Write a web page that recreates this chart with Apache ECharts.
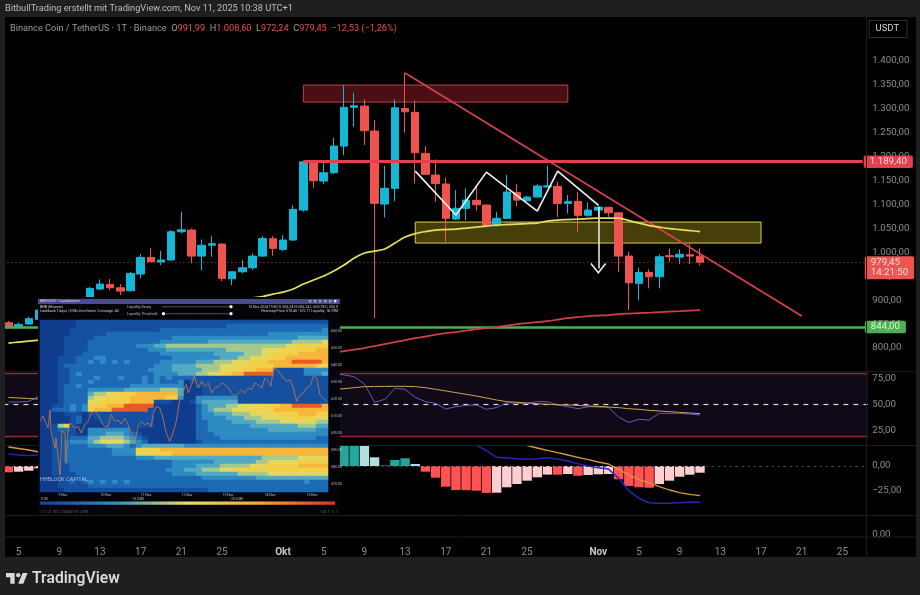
<!DOCTYPE html>
<html><head><meta charset="utf-8">
<style>html,body{margin:0;padding:0;background:#1e1e1e}#c{width:920px;height:595px}</style>
<script src="https://cdn.jsdelivr.net/npm/echarts@6/dist/echarts.min.js"></script>
</head><body><div id="c"></div>
<script>
// ---------- time axis ----------
const days=['Sep 4','Sep 5','Sep 6','Sep 7','Sep 8','Sep 9','Sep 10','Sep 11','Sep 12','Sep 13','Sep 14','Sep 15','Sep 16','Sep 17','Sep 18','Sep 19','Sep 20','Sep 21','Sep 22','Sep 23','Sep 24','Sep 25','Sep 26','Sep 27','Sep 28','Sep 29','Sep 30',
'Okt 1','Okt 2','Okt 3','Okt 4','Okt 5','Okt 6','Okt 7','Okt 8','Okt 9','Okt 10','Okt 11','Okt 12','Okt 13','Okt 14','Okt 15','Okt 16','Okt 17','Okt 18','Okt 19','Okt 20','Okt 21','Okt 22','Okt 23','Okt 24','Okt 25','Okt 26','Okt 27','Okt 28','Okt 29','Okt 30','Okt 31',
'Nov 1','Nov 2','Nov 3','Nov 4','Nov 5','Nov 6','Nov 7','Nov 8','Nov 9','Nov 10','Nov 11','Nov 12','Nov 13','Nov 14','Nov 15','Nov 16','Nov 17','Nov 18','Nov 19','Nov 20','Nov 21','Nov 22','Nov 23','Nov 24','Nov 25','Nov 26','Nov 27'];
const tickDays=['Sep 5','Sep 9','Sep 13','Sep 17','Sep 21','Sep 25','Okt 1','Okt 5','Okt 9','Okt 13','Okt 17','Okt 21','Okt 25','Nov 1','Nov 5','Nov 9','Nov 13','Nov 17','Nov 21','Nov 25'];
// ---------- candles ----------
const opens=[852.9,842.4,850.1,860,879,885,892,897,902.4,923.3,933,926,919.7,954.6,989.5,979.7,983.9,1043,1046.6,992.2,1015,1017.3,944.8,959.4,967.8,992.2,1028.4,1006.2,1025.7,1088.3,1188,1149,1166.3,1222,1303,1305.6,1253.4,1100.9,1133.7,1300.7,1292.5,1206.8,1161.5,1142.7,1069.5,1091.9,1108.6,1098.8,1056.4,1071,1125.3,1107.8,1115.5,1136.4,1137.9,1102.3,1106.5,1077.3,1088.3,1094,1082.7,992.2,935.2,958.2,949,992.9,990.1,995,991.99];
const closes=[842.4,849.5,861.2,879.4,885,892,897,902,924.7,933.7,926,919,956,989.5,980.3,983.9,1043,1047,992.2,1014.6,1018,945.6,959.4,967.8,992.2,1029,1008.3,1025.7,1089.8,1189.3,1149.6,1166.3,1222,1303,1306.3,1254,1102.3,1133.7,1302,1293.7,1208,1163,1144,1071,1091.9,1109.2,1099.4,1056.4,1071,1126,1109.2,1115.5,1138.5,1139,1102.3,1106.5,1077.3,1088.3,1094.6,1082.7,992.2,936.4,958.2,949,990.8,990.8,995.8,992.2,979.45];
const lows=[841.8,841.8,850,858,875,881,888,893,900,922,921,910.7,919,945.6,980,973.4,983,1039.7,977,963,990.8,940,931.6,956,963,991,992.9,1003,1024.5,1084.8,1135,1142.7,1163.6,1203,1262.4,1224.2,862.7,1073,1107,1249.9,1144,1162,1105.7,1022,1068,1067.4,1086.9,1055,1053.4,1070,1096.7,1107,1115,1135.8,1073,1081.5,1043,1074.3,1074.3,1074.3,959.4,879.4,900.3,924.7,924.7,980.3,975.5,975.5,972.24];
const highs=[856.4,853.7,865.4,884,890,897,906.6,905,928,943.5,944,933.7,959.4,996.4,1008.3,1003.3,1046.6,1084.8,1050,1027,1034,1018.7,960.5,983.9,997.9,1034,1034,1036,1098.8,1191,1191,1188,1239.4,1349.5,1333.4,1319.6,1276.4,1180.9,1319.6,1375,1316.7,1222,1194,1155.8,1130,1133.7,1140.6,1100,1084.8,1161.5,1142.7,1117.6,1142,1180.9,1147.5,1119.7,1126.6,1104.4,1098.8,1095,1083.5,1001.2,968.6,964.4,995.8,1008.3,1006.2,1018.8,1008.6];
// ---------- moving averages ----------
const ema50=[810.4,812.5,814.6,816.7,818.8,823,827.2,831.3,835.5,839.7,843.9,848.1,854.3,858.5,862.7,866.9,871,877.3,881.5,885.7,889.8,894,898.2,900.3,904.5,907.6,912.8,917,923.3,933.7,942.1,950.4,960.9,973.4,988,998.5,1002.7,1006.9,1019.4,1031.9,1039.2,1043.4,1046.6,1047.6,1048.6,1050.7,1052.8,1054.9,1057,1058,1059.1,1060.1,1061.2,1065.4,1067.4,1068.5,1069.5,1070.6,1071.6,1071.6,1071.6,1066.4,1061.2,1056,1052.8,1049.7,1047.6,1045.5,1043.4];
const ema200Days=days.slice(30,69);
const ema200=[783.3,787.5,790.6,793.7,796.9,800,804.2,808.4,812.5,816.7,820.9,824,828.2,831.3,833.4,836.6,839.7,841.8,843.9,847,850.1,852.2,854.3,856.4,859.5,862.7,864.8,866.9,867.9,869,871,872.1,873.1,873.8,875.2,876.3,877.3,878.4,879.4];
// ---------- drawings ----------
const zigDays=['Okt 14','Okt 18','Okt 21','Okt 26','Okt 28','Nov 1'];
const zigPrices=[1169.8,1077.9,1167.7,1086.3,1169.8,1098.8];
const trendDays=['Okt 13','Nov 21'];
const trendPrices=[1374.6,866.9];
const resistance=1189.4, support=844, lastPrice=979.45;
const redZone={from:'Okt 3',to:'Okt 29',top:1349.5,bottom:1314};
const yellowZone={from:'Okt 14',to:'Nov 17',top:1063.3,bottom:1019.4};
// ---------- RSI ----------
const rsi=[52.4,52.4,53,58,60,62,64,66,68,67,66,65,64,63,62,64,68,70,60,55,53,45,44,46,48,52,56,60,66,74,72,72,79.7,78.1,76.5,69.5,52.1,54.9,65.4,64.5,56.8,52.7,51.1,45.7,47.9,49.2,49.5,45.4,47,51.7,51.1,51.1,52.7,52.7,49.5,47.9,46,47.9,47.6,47.3,37.8,33,35.9,35.2,41.6,41.6,41.6,41,40];
const rsiMa=[56.7,56.2,55.7,55.2,56,56,57,57,58,59,60,60,61,61,62,62,63,63,64,63,62,61,60,59,58,57,57,57,58,59,60,62,64.4,65,66,67,67.1,67.3,67.3,67.3,67,66,64.5,62.9,61.3,59.7,58.1,56.2,54.3,52.7,52.1,51.4,50.8,50.2,49.8,49.5,49.2,48.6,48.3,47.6,47,46,45.4,44.4,43.8,43.2,42.5,41.9,41.3];
// ---------- MACD ----------
const macdHist=[-6.3,-5.7,-4.7,-2.3,-1,0.5,1.5,3,5,6,6.5,6,7,9,10,9,10,11,10,8,7,4,2,1,1.5,3,4,7,10,15,17,18,20,22,26,24,8.7,0.3,6,7.7,2,-5.7,-11.7,-20.7,-24,-24.2,-24.7,-26.9,-26.7,-21.3,-18,-14.7,-11.3,-8.6,-8.7,-8,-9.7,-9,-8.3,-8,-13.3,-20,-21.3,-21.7,-18,-14.7,-10.7,-8.7,-6.7];
const macdLeftDays=['Sep 4','Sep 5','Sep 6','Sep 7'];
const macdLeft=[12,11,10.5,11];
const signalLeft=[19,17.5,16,14];
const macdDays=days.slice(46,69);
const macdLine=[21,15.3,8.7,8,7.3,6.7,7.3,8.3,7,5,2.3,0,-1.7,-3,-12.3,-24.7,-32.3,-36.7,-37.3,-37.3,-36.7,-36.3,-36.3];
const signalDays=days.slice(51,69);
const signalLine=[20.3,18,15.7,13.3,11,8.7,6.3,4,2,-3.3,-9,-13.3,-17,-20.7,-24,-26.7,-28.3,-29.7];
// ---------- inset liquidity heatmap (estimated intensity 0-9) ----------
const heatRows=[
'00000011 11111111 11111111 11111111 11111111 11111111',
'00000011 11111111 11111111 11111112 22222222 22222222',
'00000111 11111111 11112222 22222222 22222222 22222223',
'00000111 11122222 22222222 22222222 22222233 33333333',
'00001111 12222222 22222233 33333333 33333333 33344444',
'00001111 22222222 22223333 33334444 44444444 44555556',
'00001111 22222222 33344555 55555555 55555555 56677777',
'00001111 22222222 22333444 44444445 55555666 77777788',
'00001112 22222222 22223333 33333444 44555667 77788888',
'00011122 23322222 22222233 33333344 45566677 78888888',
'00011122 32323232 22223333 33444555 66677788 88999998',
'00012222 22222222 22233344 44555566 66777778 88888877',
'00011222 22222222 22333344 44455566 67778881 11113333',
'00011232 22222222 22233334 44556677 88999991 11113334',
'00011222 23222322 23232322 22111111 11111111 11111111',
'00011222 32222222 23232223 01111111 11111111 11111111',
'00012232 22222223 33333333 00111111 11111111 11111111',
'00012222 33333344 44445554 00011111 11111111 11111111',
'00012222 45566777 88888884 00011111 11111111 11111111',
'00012222 56677778 88888773 00333333 31111111 11111111',
'00012222 66777778 88811100 01344444 41111111 11111111',
'00112323 77788899 99900000 00234445 56666777 88999998',
'00222323 78889999 99100000 00234555 66677778 88888888',
'00001110 11111111 11100000 00233444 55566667 77788877',
'00000120 01111111 11100000 00233334 44555666 66777766',
'00000120 00111111 11100000 00223333 44445555 66666655',
'00156100 00011111 11100000 00223333 33344444 44455544',
'00122100 33333331 00000000 00223333 33333344 44444433',
'00111100 33344432 10000000 00222333 33333333 33333333',
'00111222 44555543 21000000 00222233 33333333 33333322',
'00112333 45666654 32000000 00122222 22222222 22222222',
'00112222 33344432 34444444 33333333 33333333 33333333',
'00112222 22223333 77778888 88888888 88888888 88888888',
'00112222 22223333 66777788 88888888 88888888 88888888',
'00112222 22222222 33344444 44444444 44444555 55566666',
'00112222 22222222 22222233 33333444 44445566 66677777',
'00111222 22222222 22222233 33444455 55566677 77788888',
'00111222 22222222 22222333 44455566 77777777 77777777',
'00111122 22222222 22222233 33444444 45555566 66666666',
'00011112 22222222 22222222 22233333 33334444 44444444',
'00011212 32323232 22222222 22222222 22222222 22223222',
'00011111 22222222 22222222 22222222 22222222 22222222',
'00001111 11111111 11111111 11112222 22222222 22222222'];
const liqTime=[0,3,8,10,11,15,16,20,22,25,26,28,30,31.3,34.7,38,41.3,44.7,48,51.3,54.7,58,61.3,64.7,68,71.3,74.7,78,81.3,84.7,88,91.3,94.7,98,101.3,104.7,108,111.3,113,116.3,119.7,123,126.3,129.7,133,136.3,139.7,143,146.3,148.3,151.7,154.3,158.3,161.7,165,168.3,171.7,175,178.3,181.7,185,188.3,191.7,195,198.3,201.7,205,208.3,211.7,215,218.3,221.7,225,228.3,231,233.3,236.7,240,243.3,246.7,250,253.3,256.7,260,263.3,266.7,270,273.3,276.7,280,283.3,286.7];
const liqPrice=[606.9,609.8,602.8,613.4,601,591,596.9,575.1,601,599.8,582.2,601,605.7,604.7,602.8,603.7,599.8,604.7,606.7,611.6,612.6,610.6,606.7,603.7,603.7,610.6,606.7,607.7,605.1,608.6,604.7,599.8,593.3,603.7,606.7,604.7,605.7,603.7,610.6,615.5,614.5,608.6,599.8,594.9,599.8,606.7,619.4,624.3,628.3,623.4,628.3,633.2,626.3,630.2,627.3,629.2,623.4,626.3,627.3,629.2,628.3,626.3,623.4,621.4,623.4,625.3,623.4,626.3,625.3,629.2,628.3,626.3,632.2,630.2,627.3,638.1,637.1,635.1,632.2,630.2,631.2,626.3,618.5,622.4,623.4,626.3,627.3,633.2,632.2,622.4,620.4,618.5];
const liqPriceTicks=[660,650,640,630,620,610,600,590,580,570];
const liqDateTicks=[23,66,106,147,188,230,272];
const liqDateLabels=['9 Nov','10 Nov','11 Nov','12 Nov','13 Nov','14 Nov','15 Nov'];

// ---------- styling ----------
const UP='#14b8d6',DOWN='#ef5350',FONT='Roboto, "Liberation Sans", sans-serif',GREY='#8d8d8d',BAR='#1f1f1f';
const gridLeft=3.36,gridW=864.45;
const fmt=v=>{const s=Math.abs(v).toLocaleString('de-DE',{minimumFractionDigits:2,maximumFractionDigits:2});return (v<0?'\u2212':'')+s;};
const rows=heatRows.map(r=>r.replace(/ /g,''));
const heatData=[];
rows.forEach((r,y)=>{for(let x=0;x<r.length;x++)heatData.push([x,y,+r[x]]);});
const heatCols=Array.from(rows[0],(_,i)=>i),heatYs=rows.map((_,i)=>i);
const pairs=(a,b)=>a.map((d,i)=>[d,b[i]]);
const histColor=p=>{const i=p.dataIndex,v=macdHist[i],prev=i?macdHist[i-1]:v+1;
  return v>=0?(v>prev?'#26a69a':'#b2dfdb'):(v<prev?'#ff5252':'#ffcdd2');};
const catAxis=(g,showLabels)=>({type:'category',gridIndex:g,data:days,boundaryGap:true,axisLine:{show:false},axisTick:{show:false},splitLine:{show:false},
  axisLabel:showLabels?{show:true,interval:(i,v)=>tickDays.includes(v),margin:12,color:GREY,fontSize:10,fontFamily:FONT,hideOverlap:false,
    formatter:v=>{const [m,d]=v.split(' ');return d==='1'?'{b|'+m+'}':d;},rich:{b:{color:'#c9c9c9',fontWeight:'bold',fontSize:10,fontFamily:FONT}}}:{show:false}});
const valAxis=(g,min,max,interval,show)=>({type:'value',gridIndex:g,position:'right',min,max,interval,axisLine:{show:false},axisTick:{show:false},splitLine:{show:false},
  axisLabel:{color:GREY,fontSize:9.7,fontFamily:FONT,margin:4.5,showMinLabel:true,showMaxLabel:true,formatter:v=>show(v)?fmt(v):''}});
const line=(name,x,y,data,color,w,z,extra)=>Object.assign({name,type:'line',xAxisIndex:x,yAxisIndex:y,data,symbol:'none',showSymbol:false,silent:true,z:z||3,lineStyle:{color,width:w},itemStyle:{color}},extra||{});
const tag=(formatter,bg,color)=>({show:true,position:'end',formatter,backgroundColor:bg,color,fontSize:9.7,fontFamily:FONT,padding:[1,5],borderRadius:2,lineHeight:10.5});
const T=(x,y,text,size,color,extra)=>({type:'text',z:15,silent:true,x,y,style:Object.assign({text,fontSize:size,fill:color,fontFamily:FONT,verticalAlign:'middle'},extra||{})});
const R=(x,y,w,h,fill,z,extra)=>Object.assign({type:'rect',z:z,silent:true,shape:{x,y,width:w,height:h},style:{fill}},extra||{});
const HL=(y,x1,x2,c)=>({type:'line',z:9,silent:true,shape:{x1,y1:y,x2,y2:y},style:{stroke:c||'#17171c',lineWidth:1}});

const graphic=[
  // page chrome
  R(0,0,920,17,BAR,30),R(0,0,5,595,BAR,30),R(916,0,4,595,BAR,30),R(0,557,920,38,BAR,30),
  {type:'line',z:9,silent:true,shape:{x1:866.5,y1:17,x2:866.5,y2:557},style:{stroke:'#1b1b1f',lineWidth:1}},
  HL(371.5,5,916),HL(445.5,5,916,'#1d1d22'),HL(515.5,5,916,'#1d1d22'),HL(537,5,916,'#1b1b1f'),
  Object.assign(T(5,8.5,'BitbullTrading erstellt mit TradingView.com, Nov 11, 2025 10:38 UTC+1',9.2,'#bdbdbd',{}),{z:31}),
  Object.assign(T(10,29,'',9.2,GREY),{style:{text:'{a|Binance Coin / TetherUS · 1T · Binance  }{a|O}{r|991,99  }{a|H}{r|1.008,60  }{a|L}{r|972,24  }{a|C}{r|979,45  −12,53 (−1,26%)}',verticalAlign:'middle',rich:{a:{fontSize:9.2,fill:'#9c9c9c',fontFamily:FONT},r:{fontSize:9.2,fill:'#e0524d',fontFamily:FONT}}}}),
  R(869,20.5,38,17,'#000',15,{style:{fill:'#000',stroke:'#2e2e2e',lineWidth:1}}),
  T(875.5,29,'USDT',9.5,'#d0d0d0',{}),
  {type:'group',z:31,x:4.56,y:568.7,scaleX:.72,scaleY:.72,silent:true,children:[
    {type:'polygon',z:31,silent:true,shape:{points:[[2,6],[14,6],[14,21],[8,21],[8,12],[2,12]]},style:{fill:'#d9d9d9'}},
    {type:'polygon',z:31,silent:true,shape:{points:[[26,21],[19,21],[25,6],[32,6]]},style:{fill:'#d9d9d9'}},
    {type:'circle',z:31,silent:true,shape:{cx:19,cy:9,r:3},style:{fill:'#d9d9d9'}}]},
  Object.assign(T(32,579,'TradingView',15.7,'#d9d9d9',{fontWeight:'600'}),{z:31}),
  // inset window
  R(38,297,302,218,'#04040a',10),
  R(38,299,302,5,'#4a4a98',11),
  T(40,301.5,'BNB/USDT - Liquidationen',3.4,'#d8d8e8',{}),
  T(40,306.7,'BNB (Binance)',3.6,'#cfcfcf',{}),
  T(40,311.3,'Lookback:7 days | 5 Min timeframe | Leverage: All',3.6,'#cfcfcf',{}),
  T(127,307,'Liquidity Decay',3.6,'#bdbdbd',{}),T(127,314,'Liquidity Threshold',3.6,'#bdbdbd',{}),
  R(162,306.2,69,1,'#5f4b40',11),R(162,313.2,69,1,'#5f4b40',11),
  {type:'circle',z:12,silent:true,shape:{cx:231,cy:306.7,r:1.6},style:{fill:'#fff'}},
  {type:'circle',z:12,silent:true,shape:{cx:163.5,cy:313.7,r:1.6},style:{fill:'#fff'}},
  {type:'circle',z:12,silent:true,shape:{cx:231,cy:313.7,r:1.6},style:{fill:'#fff'}},
  T(338,306.7,'15 Nov 2024 19:50 O: 606.24 H: 606.24 L: 605.78 C: 606.0',3.5,'#cfcfcf',{align:'right'}),
  T(338,311.5,'Heatmap Price: 570.45 - 572.71 Liquidity: 18.29M',3.5,'#cfcfcf',{align:'right'}),
  R(309,300,2.4,2.4,'#9a9ac8',12),R(314,300,2.4,2.4,'#9a9ac8',12),R(319,300,2.4,2.4,'#9a9ac8',12),R(324,300,2.4,2.4,'#9a9ac8',12),R(329,300,2.4,2.4,'#9a9ac8',12),R(334,300,2.4,2.4,'#e8e8f8',12),
  T(40,480,'HYBLOCK CAPITAL',5.6,'rgba(225,235,245,.7)',{}),
  T(41,499,'0.00',3.5,'#bdbdbd',{}),T(138,499,'10.33M',3.5,'#bdbdbd',{align:'center'}),T(237,499,'20.65M',3.5,'#bdbdbd',{align:'center'}),
  R(40,501.5,295,3.2,'#000',12,{style:{fill:{type:'linear',x:0,y:0,x2:1,y2:0,colorStops:[{offset:0,color:'#14409a'},{offset:.25,color:'#2a8fc4'},{offset:.5,color:'#e9dc6a'},{offset:.75,color:'#f3a635'},{offset:1,color:'#d8341f'}]}}}),
  T(42,512.5,'1  2  3   | 01.1  2024-11-13  2.39%',3.2,'#777',{}),T(320,512.5,'1.02  1   1   1',3.2,'#777',{})
];

const dayRange=days.slice(0,69);
const pick=(keys,vals)=>dayRange.map(d=>{const i=keys.indexOf(d);return i>=0?vals[i]:null;});
const series=[
  {type:'candlestick',name:'BNBUSDT',xAxisIndex:0,yAxisIndex:0,barWidth:8,z:4,silent:true,clip:true,
   data:opens.map((o,i)=>[o,closes[i],lows[i],highs[i]]),
   itemStyle:{color:UP,color0:DOWN,borderColor:UP,borderColor0:DOWN,borderWidth:1},
   markArea:{silent:true,data:[
     [{coord:[redZone.from,redZone.top],itemStyle:{color:'rgba(150,28,42,.5)',borderColor:'#b8424e',borderWidth:1}},{coord:[redZone.to,redZone.bottom]}],
     [{coord:[yellowZone.from,yellowZone.top],itemStyle:{color:'rgba(196,176,26,.36)',borderColor:'#d8cc50',borderWidth:1}},{coord:[yellowZone.to,yellowZone.bottom]}]]},
   markLine:{silent:true,symbol:'none',precision:2,animation:false,z:5,data:[
     {yAxis:lastPrice,lineStyle:{color:'#a34a48',type:[1,3],width:1},label:Object.assign(tag(()=>'979,45\n14:21:50','#ef5350','#ffdcdc'),{distance:-3,padding:[1,6,1,6],lineHeight:10.5,offset:[0,5.5]})},
     {yAxis:support,lineStyle:{color:'#4caf50',type:'solid',width:2.6},label:Object.assign(tag(()=>fmt(support),'#4caf50','#dff5df'),{distance:-3,padding:[1,6]})},
     [{coord:['Okt 3',resistance],lineStyle:{color:'#e2404e',type:'solid',width:3},label:Object.assign(tag(()=>fmt(resistance),'#e2404e','#ffd7d7'),{distance:1,padding:[1,6]})},{coord:['Nov 27',resistance]}],
     [{coord:[trendDays[0],trendPrices[0]],lineStyle:{color:'#d8424f',type:'solid',width:1.7},label:{show:false}},{coord:[trendDays[1],trendPrices[1]]}]
   ]}},
  line('EMA 50',0,0,ema50,'#e6de5e',1.7,5,{smooth:.3}),
  line('EMA 200',0,0,pick(ema200Days,ema200),'#cf3f46',1.7,5,{smooth:.3}),
  line('Pattern',0,0,pairs(zigDays,zigPrices),'#f2f2f2',1.6,6,{connectNulls:true,markLine:{silent:true,animation:false,symbol:['none','path://M0 0 L8 10 L6.8 11 L0 2.6 L-6.8 11 L-8 10 Z'],symbolSize:[16,11],lineStyle:{color:'#f2f2f2',width:1.5,type:'solid'},itemStyle:{color:'#f2f2f2'},label:{show:false},
     data:[[{coord:['Nov 1',1094.6]},{coord:['Nov 1',966]}]]}}),
  // RSI
  Object.assign(line('RSI',1,1,rsi,'#6a58c0',1,5),{markArea:{silent:true,itemStyle:{color:'#100a18'},data:[[{yAxis:80},{yAxis:20}]]},
    markLine:{silent:true,symbol:'none',animation:false,label:{show:false},data:[
      {yAxis:80,lineStyle:{color:'#8b2c36',width:1.3,type:'solid'}},{yAxis:20,lineStyle:{color:'#8b2c36',width:1.3,type:'solid'}},
      {yAxis:50,lineStyle:{color:'#d8d8d8',width:1.2,type:[5,5]}}]}}),
  line('RSI MA',1,1,rsiMa,'#c9a550',1,5),
  // MACD
  {type:'bar',name:'Histogram',xAxisIndex:2,yAxisIndex:2,data:macdHist,barWidth:9.4,silent:true,z:3,itemStyle:{color:histColor},
   markLine:{silent:true,symbol:'none',animation:false,label:{show:false},data:[{yAxis:0,lineStyle:{color:'#3e3e3e',type:[3,3],width:1}}]}},
  line('MACD',2,2,pick(macdLeftDays.concat(macdDays),macdLeft.concat(macdLine)),'#2626b4',1.5,5),
  line('Signal',2,2,pick(macdLeftDays.concat(signalDays),signalLeft.concat(signalLine)),'#d79a3c',1.3,5),
  // inset heatmap
  {type:'heatmap',name:'Liquidity',xAxisIndex:4,yAxisIndex:4,data:heatData,z:12,silent:true,progressive:0,itemStyle:{borderWidth:0},emphasis:{disabled:true}},
  line('Inset price',5,5,pairs(liqTime,liqPrice),'#b57650',.9,13)
];

const chart=echarts.init(document.getElementById('c'),null,{renderer:'canvas'});
chart.setOption({
  animation:false,backgroundColor:'#000',textStyle:{fontFamily:FONT},
  grid:[
    {left:gridLeft,width:gridW,top:13.05,height:358.95},
    {left:gridLeft,width:gridW,top:373,height:63},
    {left:gridLeft,width:gridW,top:446,height:70},
    {left:gridLeft,width:gridW,top:516,height:19},
    {left:40,width:288,top:320,height:172,z:12},
    {left:40,width:288,top:320,height:172,z:12}
  ],
  xAxis:[catAxis(0,false),catAxis(1,false),catAxis(2,false),catAxis(3,true),
    {type:'category',gridIndex:4,data:heatCols,show:false},
    {type:'value',gridIndex:5,min:0,max:288,z:14,axisLine:{show:false},axisTick:{show:false},splitLine:{show:false},
     axisLabel:{customValues:liqDateTicks,formatter:v=>liqDateLabels[liqDateTicks.indexOf(v)]||'',color:'#bdbdbd',fontSize:3.5,margin:1.5,fontFamily:FONT}}],
  yAxis:[
    valAxis(0,750,1500,50,v=>v>=800&&v<=1400),
    valAxis(1,20,80,5,v=>v===25||v===50||v===75),
    valAxis(2,-50,20,5,v=>v===0||v===-25),
    valAxis(3,0,10,10,v=>v===0),
    {type:'category',gridIndex:4,data:heatYs,inverse:true,show:false},
    {type:'value',gridIndex:5,position:'right',min:565.1,max:666.3,z:14,axisLine:{show:false},axisTick:{show:false},splitLine:{show:false},
     axisLabel:{customValues:liqPriceTicks,formatter:v=>v.toFixed(2),color:'#bdbdbd',fontSize:3.5,margin:3,fontFamily:FONT}}],
  visualMap:[{type:'continuous',show:false,seriesIndex:9,min:0,max:9,
    inRange:{color:['#103c8e','#14509f','#1c6ab4','#2f8cc2','#52a9c2','#a4c98f','#e4d75e','#f3d04a','#f5b63a','#ea5a26']}}],
  graphic:{elements:graphic},
  series
});
</script></body></html>
